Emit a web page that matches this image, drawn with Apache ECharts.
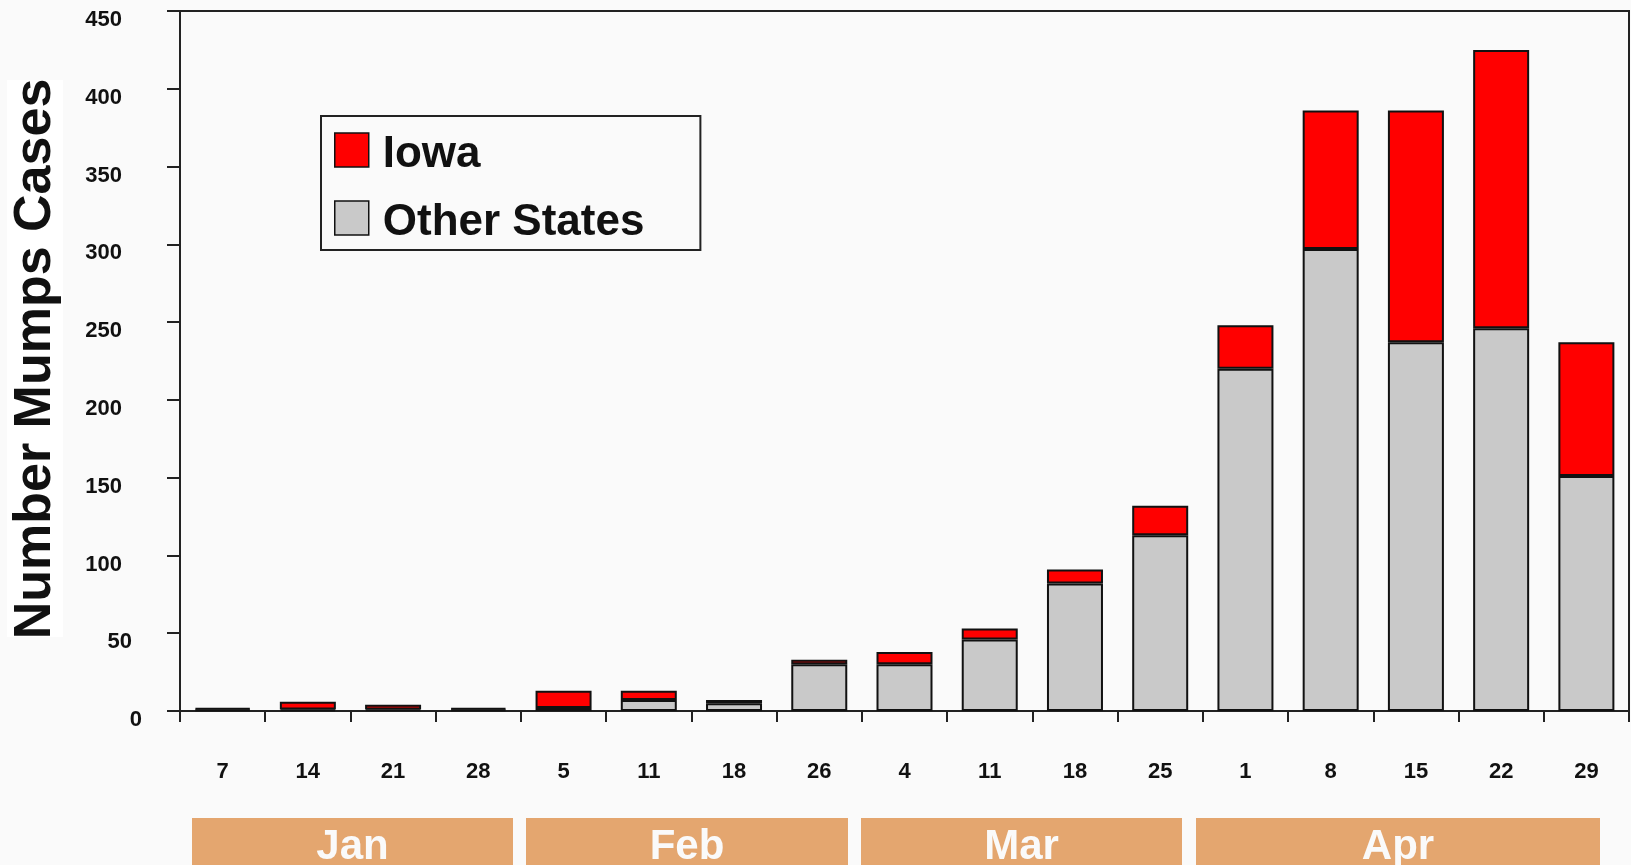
<!DOCTYPE html>
<html>
<head>
<meta charset="utf-8">
<title>Mumps cases by week</title>
<script src="https://cdn.jsdelivr.net/npm/echarts@6/dist/echarts.min.js"></script>
<style>
  html, body { margin: 0; padding: 0; background: #fafafa; }
  #chart { width: 1631px; height: 865px; }
</style>
</head>
<body>
<div id="chart"></div>
<script>
// Week-ending day labels, January through April
const weeks = ['7', '14', '21', '28', '5', '11', '18', '26', '4', '11', '18', '25', '1', '8', '15', '22', '29'];
// Reported cases per week
const otherStates = [1, 1, 1, 1, 2, 7, 5, 30, 30, 46, 82, 113, 220, 297, 237, 246, 151];
const iowa = [1, 5, 3, 1, 11, 6, 2, 3, 8, 7, 9, 19, 28, 89, 149, 179, 86];
// Month bands under the week labels
const months = ['Jan', 'Feb', 'Mar', 'Apr'];

const monthBoxes = [
  { x: 192, w: 321 },
  { x: 526, w: 322 },
  { x: 861, w: 321 },
  { x: 1196, w: 404 }
];

const chart = echarts.init(document.getElementById('chart'), null, { renderer: 'canvas' });

const barBorder = { borderColor: '#111', borderWidth: 2 };
const labelFont = { fontFamily: 'Liberation Sans', fontWeight: 'bold', fontSize: 22, color: '#111' };

chart.setOption({
  animation: false,
  backgroundColor: '#fafafa',
  grid: {
    left: 180, right: 2, top: 11, bottom: 154,
    show: true, borderColor: '#222', borderWidth: 2, backgroundColor: 'transparent'
  },
  legend: {
    data: ['Iowa', 'Other States'],
    orient: 'vertical',
    left: 321, top: 116,
    padding: [7, 56, 5, 13],
    itemGap: 14,
    itemWidth: 34, itemHeight: 34,
    icon: 'rect',
    borderColor: '#222', borderWidth: 2,
    itemStyle: { borderColor: '#111', borderWidth: 1.5 },
    formatter: '{t|{name}}',
    textStyle: {
      fontFamily: 'Liberation Sans', fontWeight: 'bold', fontSize: 44, color: '#111',
      rich: {
        t: {
          fontFamily: 'Liberation Sans', fontWeight: 'bold', fontSize: 44, color: '#111',
          lineHeight: 44, padding: [10, 0, 0, 9]
        }
      }
    },
    selectedMode: false
  },
  xAxis: {
    type: 'category',
    data: weeks,
    axisLine: { lineStyle: { color: '#222', width: 2 } },
    axisTick: { show: true, length: 11, lineStyle: { color: '#222', width: 2 } },
    axisLabel: Object.assign({ interval: 0, margin: 50 }, labelFont)
  },
  yAxis: {
    type: 'value',
    min: 0, max: 450, interval: 50,
    splitLine: { show: false },
    axisLine: { show: true, lineStyle: { color: '#222', width: 2 } },
    axisTick: { show: true, length: 13, lineStyle: { color: '#222', width: 2 } },
    axisLabel: Object.assign({
      margin: 38,
      verticalAlign: 'top',
      lineHeight: 18,
      // shorter numbers sit further right, as in the printed scale
      formatter: function (v) {
        const s = String(v);
        return '{d' + s.length + '|' + s + '}';
      },
      rich: {
        d1: { lineHeight: 18 },
        d2: { lineHeight: 18, padding: [0, 10, 0, 0] },
        d3: { lineHeight: 18, padding: [0, 20, 0, 0] }
      }
    }, labelFont)
  },
  series: [
    {
      name: 'Other States', type: 'bar', stack: 'cases', barWidth: 56,
      itemStyle: Object.assign({ color: '#c9c9c9' }, barBorder),
      data: otherStates
    },
    {
      name: 'Iowa', type: 'bar', stack: 'cases', barWidth: 56,
      itemStyle: Object.assign({ color: '#ff0000' }, barBorder),
      data: iowa
    }
  ],
  graphic: [
    {
      type: 'rect', z: 0,
      shape: { x: 7, y: 80, width: 56, height: 557 },
      style: { fill: '#ffffff' }
    },
    {
      type: 'text', z: 1,
      x: 36, y: 359, rotation: Math.PI / 2,
      style: {
        text: 'Number Mumps Cases',
        font: 'bold 52px "Liberation Sans"',
        fill: '#111',
        align: 'center', verticalAlign: 'middle'
      }
    }
  ].concat(months.map(function (m, i) {
    return {
      type: 'group',
      children: [
        {
          type: 'rect',
          shape: { x: monthBoxes[i].x, y: 818, width: monthBoxes[i].w, height: 60 },
          style: { fill: '#e4a66f' }
        },
        {
          type: 'text',
          x: monthBoxes[i].x + monthBoxes[i].w / 2, y: 847,
          style: {
            text: m,
            font: 'bold 42px "Liberation Sans"',
            fill: '#fafafa',
            align: 'center', verticalAlign: 'middle'
          }
        }
      ]
    };
  }))
});
</script>
</body>
</html>
